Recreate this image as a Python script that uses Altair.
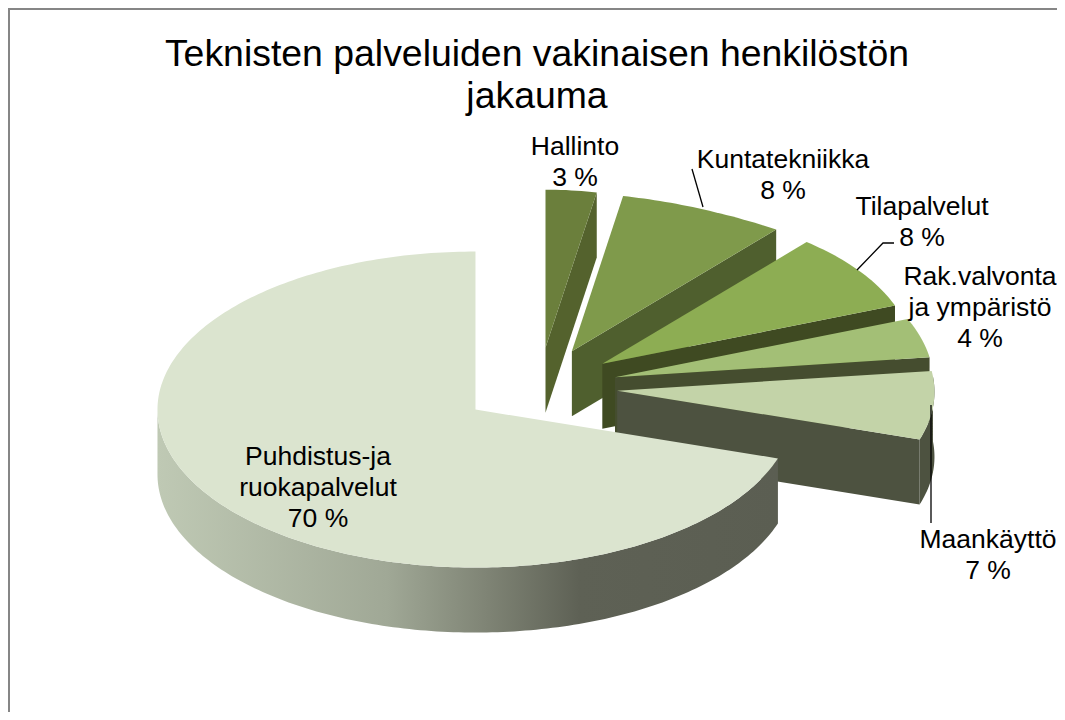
import math
import altair as alt

# --- data ---
categories = ["Hallinto", "Kuntatekniikka", "Tilapalvelut", "Rak.valvonta ja ympäristö", "Maankäyttö", "Puhdistus-ja ruokapalvelut"]
shares = [3, 8, 8, 4, 7, 70]
top_colors = ["#6b7f3c", "#7f9a4b", "#8dad53", "#a3bf76", "#c3d3a8", "#dbe4cf"]
side_colors = ["#54622d", "#4f5f2e", "#3f4a22", "#454d2f", "#4d5240", "#5b5e52"]
title_lines = ["Teknisten palveluiden vakinaisen henkilöstön", "jakauma"]
label_lines = [["Hallinto", "3 %"], ["Kuntatekniikka", "8 %"], ["Tilapalvelut", "8 %"],
               ["Rak.valvonta", "ja ympäristö", "4 %"], ["Maankäyttö", "7 %"],
               ["Puhdistus-ja", "ruokapalvelut", "70 %"]]

# --- layout (reference pixels; the page margin is subtracted below) ---
W, H = 1049, 704
OFF = 8
CX, CY = 538, 387      # pie centre on the sloped plane
RX, RY = 318, 158      # radii of the top ellipse
DEPTH = 65             # wall height
EXPLODE = 0.25
EXPLODE_MAIN = 0.243
label_x = [575, 783, 922, 980, 988, 318]
label_base = [155, 168, 215, 285, 548, 465]
LINE_H = 31
leaders = [[(692, 169), (703, 207)],
           [(894, 243), (883, 243), (857, 270)],
           [(931, 405), (931, 523)]]
# perspective foreshortening of the far rim: (angle, factor on the horizontal radius)
rim_warp = [(0, 0.86), (10.8, 0.86), (39.6, 1.008), (68.4, 0.99), (82.8, 0.997), (108, 1.0), (360, 1.0)]


def warp(theta_deg):
    for (a0, f0), (a1, f1) in zip(rim_warp, rim_warp[1:]):
        if a0 <= theta_deg <= a1:
            return f0 + (f1 - f0) * (theta_deg - a0) / (a1 - a0)
    return 1.0


def outer(theta_deg):
    t = math.radians(theta_deg)
    return RX * math.sin(t) * warp(theta_deg), -RY * math.cos(t)


def poly(points):
    ring = [[x - OFF, y - OFF] for x, y in points]
    ring.append(ring[0])
    return {"type": "Feature", "properties": {}, "geometry": {"type": "Polygon", "coordinates": [ring]}}


def shape(points, fill):
    return alt.Chart(alt.Data(values=[poly(points)])).mark_geoshape(
        fill=fill, stroke=None, strokeWidth=0).project(
        type="identity", scale=1, translate=[0, 0])


main_gradient = alt.Gradient(
    gradient="linear", x1=0, x2=1, y1=0, y2=0,
    stops=[alt.GradientStop(offset=0, color="#bfc9b4"),
           alt.GradientStop(offset=0.37, color="#a0a896"),
           alt.GradientStop(offset=0.53, color="#7f8475"),
           alt.GradientStop(offset=0.68, color="#5e6155"),
           alt.GradientStop(offset=1, color="#5b5e52")])

layers = []
start = 0.0
for i, share in enumerate(shares):
    sweep = share * 3.6
    end = start + sweep
    mid = math.radians(start + sweep / 2)
    is_main = share == max(shares)
    e = EXPLODE_MAIN if is_main else EXPLODE
    ax = CX + e * RX * math.sin(mid)
    ay = CY - e * RY * math.cos(mid)
    n = max(2, int(sweep))
    thetas = [start + sweep * k / n for k in range(n + 1)]
    rim = [(ax + outer(t)[0], ay + outer(t)[1]) for t in thetas]

    # radial end face (faces the viewer for the small slices only)
    if not is_main:
        ex, ey = rim[-1]
        layers.append(shape([(ax, ay), (ex, ey), (ex, ey + DEPTH), (ax, ay + DEPTH)], side_colors[i]))
    # outer wall, only the part on the near half of the rim
    wall = [p for t, p in zip(thetas, rim) if 84 <= t <= 270]
    if len(wall) >= 2:
        low = [(x, y + DEPTH) for x, y in reversed(wall)]
        layers.append(shape(wall + low, main_gradient if is_main else side_colors[i]))
    layers.append(shape([(ax, ay)] + rim, top_colors[i]))
    start = end

# leader lines
for j, pts in enumerate(leaders):
    rows = [{"x": x - OFF, "y": y - OFF, "o": k} for k, (x, y) in enumerate(pts)]
    layers.append(alt.Chart(alt.Data(values=rows)).mark_line(color="#000000", strokeWidth=1.3).encode(
        x=alt.X("x:Q", scale=None, axis=None),
        y=alt.Y("y:Q", scale=None, axis=None),
        order="o:O"))

# frame: top and left edges only
frame = [{"x": 1, "y": H, "o": 0}, {"x": 1, "y": 1, "o": 1}, {"x": W, "y": 1, "o": 2}]
layers.append(alt.Chart(alt.Data(values=frame)).mark_line(color="#868686", strokeWidth=2).encode(
    x=alt.X("x:Q", scale=None, axis=None),
    y=alt.Y("y:Q", scale=None, axis=None),
    order="o:O"))

# labels
rows = []
for lines, lx, base in zip(label_lines, label_x, label_base):
    for k, line in enumerate(lines):
        rows.append({"t": line, "x": lx - OFF, "y": base + k * LINE_H - OFF})
layers.append(alt.Chart(alt.Data(values=rows)).mark_text(
    font="Liberation Sans", fontSize=26.5, color="#000000", align="center", baseline="alphabetic").encode(
    x=alt.X("x:Q", scale=None, axis=None),
    y=alt.Y("y:Q", scale=None, axis=None),
    text="t:N"))

# title
title_rows = [{"t": title_lines[0], "x": 537 - OFF, "y": 66 - OFF},
              {"t": title_lines[1], "x": 537 - OFF, "y": 108 - OFF}]
layers.append(alt.Chart(alt.Data(values=title_rows)).mark_text(
    font="Liberation Sans", fontSize=37.4, color="#000000", align="center", baseline="alphabetic").encode(
    x=alt.X("x:Q", scale=None, axis=None),
    y=alt.Y("y:Q", scale=None, axis=None),
    text="t:N"))

chart = alt.layer(*layers).properties(
    width=W, height=H, padding=0, autosize=alt.AutoSizeParams(type="none"),
    background="#ffffff",
).configure_view(stroke=None)

chart.save("out.html", embed_options={"renderer": "svg", "actions": False})
